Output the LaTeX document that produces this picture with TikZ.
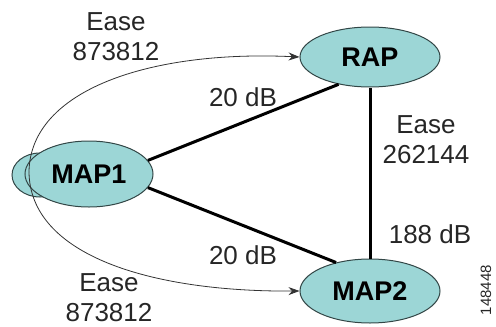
\documentclass[tikz,border=0pt]{standalone}
\usepackage{fontspec}
\setmainfont{Liberation Sans}
\usepackage{xcolor}
\usetikzlibrary{shapes.geometric, arrows.meta, positioning}

\definecolor{apfill}{RGB}{156,214,214}
\definecolor{apline}{RGB}{50,70,70}

\begin{document}
\begin{tikzpicture}[
    x=1pt, y=-1pt,
    apnode/.style={ellipse, draw=apline, line width=1pt, fill=apfill, minimum width=140pt, minimum height=60pt, inner sep=0pt, font=\fontsize{27}{30}\selectfont\bfseries},
    link/.style={line width=3pt, black},
    ease/.style={->, >={Stealth[length=11pt, width=8pt]}, line width=0.8pt, black!80},
    txt/.style={align=center, font=\fontsize{26}{30}\selectfont, text=black!85, inner sep=0pt}
]
\useasboundingbox (0,0) rectangle (496,327);

% Extra lobe behind MAP1
\draw[apline, line width=1pt, fill=apfill] (40,175) ellipse [x radius=28, y radius=22];

% Access points
\node[apnode] (rap) at (370,57) {RAP};
\node[apnode, minimum width=128pt, minimum height=66pt] (map1) at (89,174) {MAP1};
\node[apnode, minimum height=64pt] (map2) at (370,291) {MAP2};

% Links
\draw[link] (map1.13) -- (rap.-139);
\draw[link] (map1.-13) -- (map2.140);
\draw[link] (rap) -- (map2);

% Ease arrows
\coordinate (turn) at (29,172);
\draw[ease] (turn) .. controls (30,90) and (150,50) .. (rap.west);
\draw[ease] (turn) .. controls (30,255) and (150,292) .. (map2.west);

% Labels
\node[txt] (easetop) at (116,37) {Ease\\873812};
\node[txt] (dbtop) at (243,97) {20 dB};
\node[txt] (easeright) at (426,140) {Ease\\262144};
\node[txt] (dbright) at (430,234) {188 dB};
\node[txt] (dbbottom) at (243,255) {20 dB};
\node[txt] (easebottom) at (109,298) {Ease\\873812};
\node[txt, rotate=90, font=\fontsize{15}{15}\selectfont] (fignum) at (486,290) {148448};

\end{tikzpicture}
\end{document}
